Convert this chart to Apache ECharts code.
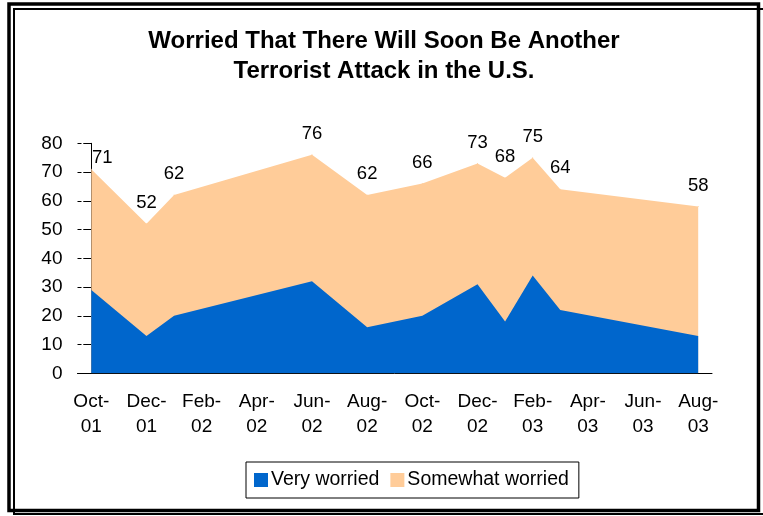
<!DOCTYPE html>
<html>
<head>
<meta charset="utf-8">
<script src="https://cdn.jsdelivr.net/npm/echarts@6/dist/echarts.min.js"></script>
<style>
html,body{margin:0;padding:0;background:#fff;}
#chart{width:763px;height:516px;}
</style>
</head>
<body>
<div id="chart"></div>
<script>
// Month index: 0 = Oct-01 ... 22 = Aug-03
var surveyMonths = [0, 2, 3, 8, 10, 12, 14, 15, 16, 17, 22];
var veryWorried = [29, 13, 20, 32, 16, 20, 31, 18, 34, 22, 13];
var totalWorried = [71, 52, 62, 76, 62, 66, 73, 68, 75, 64, 58];
var tickMonths = [0, 2, 4, 6, 8, 10, 12, 14, 16, 18, 20, 22];
var tickLabels = ['Oct-\n01', 'Dec-\n01', 'Feb-\n02', 'Apr-\n02', 'Jun-\n02', 'Aug-\n02',
                  'Oct-\n02', 'Dec-\n02', 'Feb-\n03', 'Apr-\n03', 'Jun-\n03', 'Aug-\n03'];

var FONT = 'Liberation Sans, Arial, sans-serif';

var veryData = surveyMonths.map(function (m, i) { return [m, veryWorried[i]]; });
var totalData = surveyMonths.map(function (m, i) {
  var item = { value: [m, totalWorried[i]] };
  if (i === 0) item.label = { offset: [11, 10] };
  return item;
});

var chart = echarts.init(document.getElementById('chart'), null, { renderer: 'canvas' });
chart.setOption({
  backgroundColor: '#ffffff',
  animation: false,
  title: {
    text: 'Worried That There Will Soon Be Another\nTerrorist Attack in the U.S.',
    left: 379, top: 21, textAlign: 'center',
    textStyle: { fontFamily: FONT, fontSize: 24, fontWeight: 'bold', color: '#000', lineHeight: 30 }
  },
  legend: {
    data: ['Very worried', 'Somewhat worried'],
    left: 246, top: 462,
    padding: [8, 10, 8, 8],
    itemWidth: 14, itemHeight: 14, itemGap: 11,
    borderColor: '#000', borderWidth: 1,
    icon: 'rect',
    textStyle: { fontFamily: FONT, fontSize: 19.5, color: '#000', padding: [0, 0, 0, -2] }
  },
  grid: { left: 77.5, right: 51, top: 143.3, bottom: 142.7, containLabel: false },
  xAxis: {
    type: 'value', min: -0.5, max: 22.5,
    axisLine: { show: true, onZero: false, lineStyle: { color: '#000', width: 1 } },
    axisTick: { show: false },
    splitLine: { show: false },
    axisLabel: {
      customValues: tickMonths,
      margin: 16,
      fontFamily: FONT, fontSize: 19, color: '#000', lineHeight: 25,
      formatter: function (v) {
        var idx = tickMonths.indexOf(Math.round(v));
        return idx >= 0 ? tickLabels[idx] : '';
      }
    }
  },
  yAxis: [{
    type: 'value', min: 0, max: 80, interval: 10,
    axisLine: { show: true, lineStyle: { color: '#000', width: 1 } },
    axisTick: { show: true, length: 8, lineStyle: { color: '#000' } },
    splitLine: { show: false },
    axisLabel: { margin: 15, fontFamily: FONT, fontSize: 19, color: '#000' }
  }, {
    type: 'value', min: 0, max: 80, interval: 10, position: 'left', offset: 0,
    axisLine: { show: false },
    axisTick: { show: true, inside: true, length: 4, lineStyle: { color: '#000' } },
    splitLine: { show: false },
    axisLabel: { show: false }
  }],
  series: [{
    name: 'Somewhat worried', type: 'line', data: totalData,
    symbol: 'circle', symbolSize: 1, showSymbol: true,
    lineStyle: { width: 0 }, z: 2,
    itemStyle: { color: '#FFCC99' },
    areaStyle: { color: '#FFCC99', opacity: 1 },
    label: {
      show: true, position: 'top', distance: 11,
      fontFamily: FONT, fontSize: 18.5, color: '#000',
      formatter: function (p) { return p.value[1]; }
    }
  }, {
    name: 'Very worried', type: 'line', data: veryData,
    symbol: 'none', lineStyle: { width: 0 }, z: 3,
    itemStyle: { color: '#0066CC' },
    areaStyle: { color: '#0066CC', opacity: 1 }
  }],
  graphic: [{
    type: 'rect', silent: true, z: 100,
    shape: { x: 9, y: 4, width: 749.5, height: 506.5 },
    style: { fill: null, stroke: '#000', lineWidth: 3.5 }
  }, {
    type: 'rect', silent: true, z: 100,
    shape: { x: 14, y: 9, width: 770, height: 505 },
    style: { fill: null, stroke: '#000', lineWidth: 2 }
  }]
});
</script>
</body>
</html>
